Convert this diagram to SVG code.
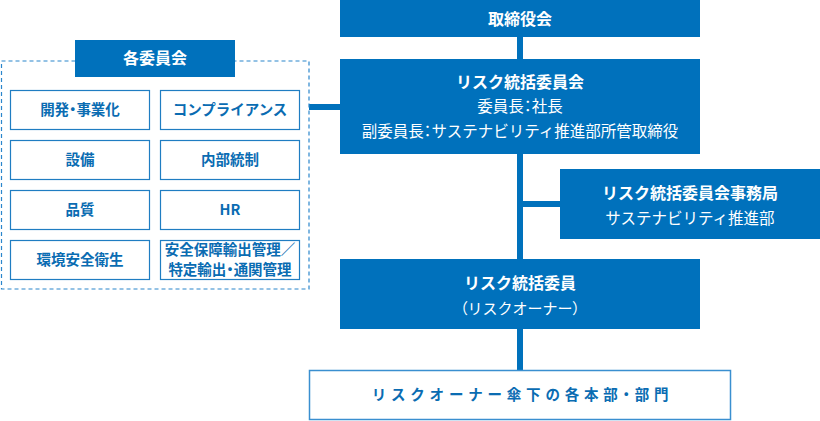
<svg xmlns="http://www.w3.org/2000/svg" width="820" height="421" viewBox="0 0 820 421">
<style>
text{font-family:"Noto Sans CJK JP","Noto Sans",sans-serif;text-anchor:middle}
.fill{fill:#0071bc}
.w{fill:#fff}
.b{font-weight:bold}
.p{font-feature-settings:"palt"}
.cell{fill:#fff;stroke:#1f7dc2;stroke-width:1.2}
.ct{fill:#0a6cb2;font-weight:bold;font-size:14.5px}
.line{fill:#0071bc}
</style>
<rect width="820" height="421" fill="#fff"/>
<g id="connectors">
<rect class="line" x="517" y="36" width="6" height="335"/>
<rect class="line" x="523" y="201" width="38" height="6"/>
<rect class="line" x="309" y="104" width="32" height="6"/>
</g>
<g id="board">
<rect class="fill" x="340" y="0" width="360" height="37"/>
<text class="w b" x="520" y="25" font-size="16">取締役会</text>
</g>
<g id="risk-committee">
<rect class="fill" x="340" y="59" width="360" height="95"/>
<text class="w b" x="520" y="88" font-size="16">リスク統括委員会</text>
<text class="w" x="520" y="112" font-size="15.5">委員長<tspan class="p">：</tspan>社長</text>
<text class="w" x="520" y="137" font-size="15.5">副委員長<tspan class="p">：</tspan>サステナビリティ推進部所管取締役</text>
</g>
<g id="secretariat">
<rect class="fill" x="560" y="169" width="260" height="70"/>
<text class="w b" x="690" y="199" font-size="16">リスク統括委員会事務局</text>
<text class="w" x="690" y="224" font-size="15.5">サステナビリティ推進部</text>
</g>
<g id="risk-officer">
<rect class="fill" x="340" y="259" width="360" height="70"/>
<text class="w b" x="520" y="289" font-size="16">リスク統括委員</text>
<text class="w" x="520" y="314" font-size="15"><tspan class="p">（</tspan>リスクオーナー<tspan class="p">）</tspan></text>
</g>
<g id="departments">
<rect x="309.5" y="370.5" width="421" height="49" fill="#fff" stroke="#3a8fd0" stroke-width="1.5"/>
<text x="522.5" y="400" font-size="14.5" font-weight="bold" fill="#0a6cb2" letter-spacing="4.8">リスクオーナー傘下の各本部<tspan class="p">・</tspan>部門</text>
</g>
<g id="committees">
<rect x="1.5" y="61" width="307.5" height="228" fill="none" stroke="#2b86cc" stroke-width="1.2" stroke-dasharray="4,3"/>
<rect class="fill" x="75" y="40" width="160" height="37"/>
<text class="w b" x="155" y="64" font-size="16">各委員会</text>
</g>
<g id="c-dev"><rect class="cell" x="10.5" y="90.5" width="139" height="39"/><text class="ct" x="80" y="115">開発<tspan class="p">・</tspan>事業化</text></g>
<g id="c-compliance"><rect class="cell" x="160.5" y="90.5" width="139" height="39"/><text class="ct" x="230" y="115">コンプライアンス</text></g>
<g id="c-facility"><rect class="cell" x="10.5" y="140.5" width="139" height="39"/><text class="ct" x="80" y="165">設備</text></g>
<g id="c-internal"><rect class="cell" x="160.5" y="140.5" width="139" height="39"/><text class="ct" x="230" y="165">内部統制</text></g>
<g id="c-quality"><rect class="cell" x="10.5" y="190.5" width="139" height="39"/><text class="ct" x="80" y="215">品質</text></g>
<g id="c-hr"><rect class="cell" x="160.5" y="190.5" width="139" height="39"/><text class="ct" x="230" y="215">HR</text></g>
<g id="c-ehs"><rect class="cell" x="10.5" y="240.5" width="139" height="39"/><text class="ct" x="80" y="265">環境安全衛生</text></g>
<g id="c-export"><rect class="cell" x="160.5" y="240.5" width="139" height="39"/><text class="ct" x="230" y="255" font-size="12.5">安全保障輸出管理<tspan class="p">／</tspan></text><text class="ct" x="230" y="274.5" font-size="12.5">特定輸出<tspan class="p">・</tspan>通関管理</text></g>
</svg>
